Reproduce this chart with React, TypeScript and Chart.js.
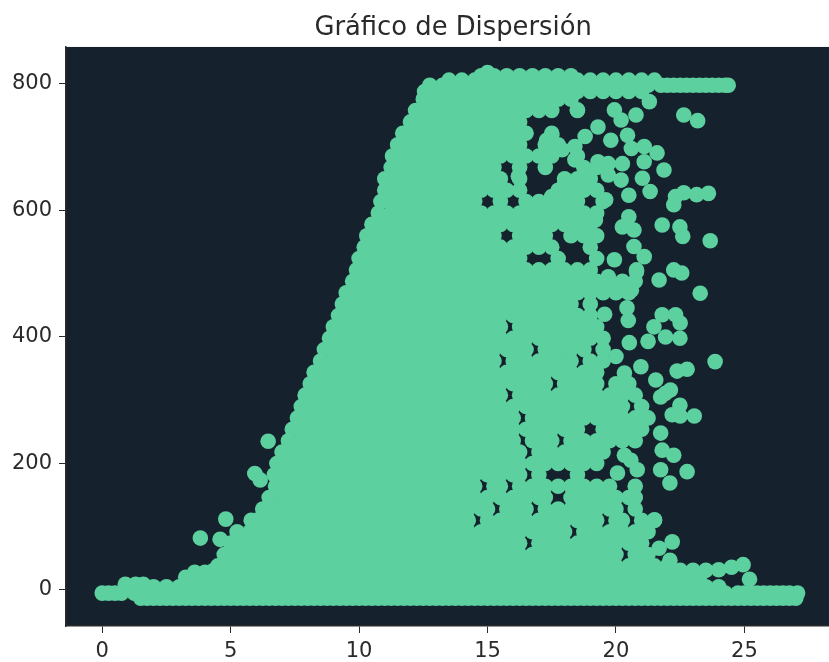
import React, { useEffect, useRef } from "react";
import { Chart, registerables } from "chart.js";

Chart.register(...registerables);

const titleText = "Gráfico de Dispersión";
const xTickStep = 5;
const yTickStep = 200;

const rowM13 = [1.5,1.75,2,2.25,2.5,2.75,3,3.25,3.5,3.75,4,4.25,4.5,4.75,5,5.25,5.5,5.75,6,6.25,6.5,6.75,7,7.25,7.5,7.75,8,8.25,8.5,8.75,9,9.25,9.5,9.75,10,10.25,10.5,10.75,11,11.25,11.5,11.75,12,12.25,12.5,12.75,13,13.25,13.5,13.75,14,14.25,14.5,14.75,15,15.25,15.5,15.75,16,16.25,16.5,16.75,17,17.25,17.5,17.75,18,18.25,18.5,18.75,19,19.25,19.5,19.75,20,20.25,20.5,20.75,21,21.25,21.5,21.75,22,22.25,22.5,22.75,23,23.25,23.5,23.75,24,24.25,24.5,24.75,25,25.25,25.5,25.75,26,26.25,26.5,26.75,27];
const rowM5 = [0,0.25,0.5,0.75,1.25,1.75,2.25,2.75,3.25,3.75,4.25,4.75,5.25,5.75,6.25,6.75,7.25,7.75,8.25,8.75,9.25,9.75,10.25,10.75,11.25,11.75,12.25,12.75,13.25,13.75,14.25,14.75,15.25,15.75,16.25,16.75,17.25,17.75,18.25,18.75,19.25,19.75,20.25,20.75,21.25,21.75,22.25,22.75,23.25,23.75,24.25,24.75,25,25.25,25.5,25.75,26,26.25,26.5,26.75,27.07];
const row5 = [2,2.5,3,3.5,4,4.5,5,5.5,6,6.5,7,7.5,8,8.5,9,9.5,10,10.5,11,11.5,12,12.5,13,13.5,14,14.5,15,15.5,16,16.5,17,17.5,18,18.5,19,19.5,20,20.5,21,21.5,22,22.5,23,23.5,24];
const row20 = [3.25,3.75,4.25,4.75,5.25,5.75,6.25,6.75,7.25,7.75,8.25,8.75,9.25,9.75,10.25,10.75,11.25,11.75,12.25,12.75,13.25,13.75,14.25,14.75,15.25,15.75,16.25,16.75,17.25,17.75,18.25,18.75,19.25,19.75,20.25,20.75,21.25,21.75,22.25,22.75,23.25];
const row38 = [4.5,5,5.5,6,6.5,7,7.5,8,8.5,9,9.5,10,10.5,11,11.5,12,12.5,13,13.5,14,14.5,15,15.5,16,16.5,17,17.5,18,18.5,19,19.5,20,20.5,21,21.5,22];
const row56 = [4.75,5.25,5.75,6.25,6.75,7.25,7.75,8.25,8.75,9.25,9.75,10.25,10.75,11.25,11.75,12.25,12.75,13.25,13.75,14.25,14.75,15.25,15.75,16.25,16.75,17.25,17.75,18.25,18.75,19.25,19.75,20,20.75,21.25];
const row74 = [5,5.5,6,6.5,7,7.5,8,8.5,9,9.5,10,10.5,11,11.5,12,12.5,13,13.5,14,14.5,15,15.5,16,16.25,17,17.5,18,18.5,19,19.5,20,20.5,21];
const row92 = [5.25,5.75,6.25,6.75,7.25,7.75,8.25,8.75,9.25,9.75,10.25,10.75,11.25,11.75,12.25,12.75,13.25,13.75,14.25,14.75,15.25,15.75,16.25,16.75,17.25,17.75,18,18.75,19.25,19.75,20.25,20.75,21.25];
const row110 = [5.8,6,6.5,7,7.5,8,8.5,9,9.5,10,10.5,11,11.5,12,12.5,13,13.5,14,14.25,15,15.5,16,16.5,17,17.5,18,18.5,19,19.25,20,20.25,21,21.5];
const row128 = [6.25,6.75,7.25,7.75,8.25,8.75,9.25,9.75,10.25,10.75,11.25,11.75,12.25,12.75,13.25,13.75,14.25,14.75,15,15.75,16.25,16.5,17.25,17.75,18.25,18.75,19.25,19.75,20,20.75];
const row146 = [6.5,7,7.5,8,8.5,9,9.5,10,10.5,11,11.5,12,12.5,13,13.5,14,14.5,15,15.5,16,16.5,17,17.25,18.25,18.5,19,19.5,20,20.5,20.75];
const row164 = [6.75,7.25,7.75,8.25,8.75,9.25,9.75,10.25,10.75,11.25,11.75,12.25,12.75,13.25,13.75,14.25,14.5,15.25,15.5,16.25,16.75,17.25,17.75,18.25,18.75,19.25,19.75,20.75];
const row182 = [6.7,7,7.5,8,8.5,9,9.5,10,10.5,11,11.5,12,12.5,13,13.5,14,14.5,15,15.5,16,16.25,17,18.5];
const row200 = [6.8,7.25,7.75,8.25,8.75,9.25,9.75,10.25,10.75,11.25,11.75,12.25,12.75,13.25,13.75,14.25,14.75,15.25,15.75,16.25,16.75,17.25,17.75,18.25,18.75,19.25];
const row218 = [7,7.5,8,8.5,9,9.5,10,10.5,11,11.5,12,12.5,13,13.5,14,14.5,15,15.5,16,16.25,17,17.5,18,18.5,19,19.5];
const row236 = [7.25,7.75,8.25,8.75,9.25,9.75,10.25,10.75,11.25,11.75,12.25,12.75,13.25,13.75,14.25,14.75,15.25,15.75,16,16.75,17.25,17.5,18.25,18.75,19.25,19.75,20.25,20.75];
const row254 = [7.4,7.75,8,8.5,9,9.5,10,10.5,11,11.5,12,12.5,13,13.5,14,14.5,15,15.5,16,16.5,17,17.5,18,18.5,19.5,20,20.5,21];
const row272 = [7.6,7.9,8.25,8.75,9.25,9.75,10.25,10.75,11.25,11.75,12.25,12.75,13.25,13.75,14.25,14.75,15.25,15.75,16,16.75,17.25,17.75,18.25,18.75,19.25,19.75,20.25,20.75,21.25];
const row290 = [7.75,8,8.5,9,9.5,10,10.5,11,11.5,12,12.5,13,13.5,14,14.5,15,15.5,16,16.5,17,17.5,18,18.5,19,19.5,20,20.25,21];
const row308 = [7.9,8.25,8.75,9.25,9.75,10.25,10.75,11.25,11.75,12.25,12.75,13.25,13.75,14.25,14.75,15.25,15.5,16.25,16.75,17.25,17.75,18.25,18.75,19.25,19.75,20.25,20.75];
const row326 = [8.1,8.5,9,9.5,10,10.5,11,11.5,12,12.5,13,13.5,14,14.5,15,15.5,16,16.5,17,17.25,18,18.5,19,19.25,20,20.5];
const row344 = [8.25,8.75,9.25,9.75,10.25,10.75,11.25,11.75,12.25,12.75,13.25,13.75,14.25,14.75,15.25,15.75,16.25,16.75,17.25,17.75,18.25,18.75,19.25];
const row362 = [8.5,9,9.5,10,10.5,11,11.5,12,12.5,13,13.5,14,14.5,15,15.25,16,16.5,17,17.5,18,18.25,19,19.5];
const row380 = [8.65,8.95,9.25,9.75,10.25,10.75,11.25,11.75,12.25,12.75,13.25,13.75,14.25,14.75,15.25,15.75,16.25,16.5,17.25,17.75,18.25,18.75,19.5];
const row398 = [8.85,9.15,9.5,10,10.5,11,11.5,12,12.5,13,13.5,14,14.5,15,15.5,16,16.5,17,17.5,18,18.5,19,19.5];
const row416 = [9,9.25,9.75,10.25,10.75,11.25,11.75,12.25,12.75,13.25,13.75,14.25,14.75,15.25,15.5,16.25,16.75,17.25,17.75,18.25,18.75,19.25];
const row434 = [9.2,9.5,10,10.5,11,11.5,12,12.5,13,13.5,14,14.5,15,15.5,16,16.5,17,17.5,18,18.5,19];
const row452 = [9.35,9.75,10.25,10.75,11.25,11.75,12.25,12.75,13.25,13.75,14.25,14.75,15.25,15.75,16.25,16.75,17.25,17.75,18.25,19];
const row470 = [9.5,10,10.5,11,11.5,12,12.5,13,13.5,14,14.5,15,15.5,16,16.5,17,17.5,18,18.5,19,19.5,20,20.5];
const row488 = [9.75,10.25,10.75,11.25,11.75,12.25,12.75,13.25,13.75,14.25,14.75,15.25,15.75,16.25,16.75,17.25,17.75,18.25,18.75,19.25,19.75,20.25,20.75];
const row506 = [9.9,10.2,10.5,11,11.5,12,12.5,13,13.5,14,14.5,15,15.5,16,16.5,17,17.5,18,18.5,19,20.8];
const row524 = [10,10.25,10.75,11.25,11.75,12.25,12.75,13.25,13.75,14.25,14.75,15.25,15.75,16.25,17.75,19.25];
const row542 = [10.2,10.5,11,11.5,12,12.5,13,13.5,14,14.5,15,15.5,16,16.5,17,17.5,19];
const row560 = [10.3,10.75,11.25,11.75,12.25,12.75,13.25,13.75,14.25,14.75,15.25,16.25,16.75,17.25,18.25,18.75,19.25];
const row578 = [10.5,11,11.5,12,12.5,13,13.5,14,14.5,15,15.5,16,16.5,17,17.5,18,18.5,19];
const row596 = [10.75,11.25,11.75,12.25,12.75,13.25,13.75,14.25,14.75,15.25,15.75,16.25,16.75,17.25,17.75,18.25,18.75,19.25];
const row614 = [10.85,11.15,11.5,12,12.5,13,13.5,14,14.5,15.5,16.5,17,17.5,18,18.5,19.5];
const row632 = [11,11.25,11.75,12.25,12.75,13.25,13.75,14.25,14.75,15.25,15.75,16.25,17.75,18.25,18.75,19.25];
const row650 = [11,11.5,12,12.5,13,13.5,14,14.5,15,15.5,16.25,18,18.5,19];
const row668 = [11.25,11.75,12.25,12.75,13.25,13.75,14.25,14.75,15.25,16.25,17.25,18.75,19.25];
const row686 = [11.3,11.5,12,12.5,13,13.5,14,14.5,15,15.5,16,16.5,17,17.5,18.5];
const row704 = [11.5,11.75,12.25,12.75,13.25,13.75,14.25,14.75,15.25,15.75,16.25,17.25,17.75];
const row722 = [11.7,12,12.5,13,13.5,14,14.5,15,15.5,16,16.5,17.5];
const row740 = [12,12.25,12.75,13.25,13.75,14.25,14.75,15.25,15.75,16.25];
const row758 = [12.2,12.5,13,13.5,14,14.5,15,15.5,16,16.5,17,17.5,18.5];
const row776 = [12.5,12.75,13.25,13.75,14.25,14.75,15.25,15.75,16.25,16.75,17.25,17.75,18.25];
const row788 = [12.55,13,13.5,14,14.5,15,15.5,16,16.5,17,17.5,18,18.5,19,19.5,20,20.5,21];
const row798 = [12.75,13.25,13.75,14.25,14.75,15.25,15.75,16.25,16.75,17.25,17.75,18.25,18.75,19.25,19.75,20.25,20.75,21.25,21.75,22,22.25,22.5,22.75,23,23.25,23.5,23.75,24,24.25,24.37];
const row806 = [13.5,14,14.5,15,15.5,16,16.5,17,17.5,18,18.5,19,19.5,20,20.5,21,21.5];
const row813 = [14.75,15.25,15.75,16.25,16.75,17.25,17.75,18.25];

const rowYs = [-13,-5,5,20,38,56,74,92,110,128,146,164,182,200,218,236,254,272,290,308,326,344,362,380,398,416,434,452,470,488,506,524,542,560,578,596,614,632,650,668,686,704,722,740,758,776,788,798,806,813];
const rowXs = [rowM13,rowM5,row5,row20,row38,row56,row74,row92,row110,row128,row146,row164,row182,row200,row218,row236,row254,row272,row290,row308,row326,row344,row362,row380,row398,row416,row434,row452,row470,row488,row506,row524,row542,row560,row578,row596,row614,row632,row650,row668,row686,row704,row722,row740,row758,row776,row788,row798,row806,row813];

const strayX = [0.9,1.3,1.6,3.6,4,4.3,3.82,4.81,4.59,5.94,6.15,6.46,21.68,22.19,22.1,21.5,22.5,23,23.5,24,24.5,24.95,25.2,20.78,22.64,23.18,21.3,21.87,21.33,23.6,23.14,22.64,22.32,22.25,21.8,22.49,22.6,23.67,23.28,19.94,22.25,21.68,22.56,23.86,22.77,22.38,21.93,21.74,22.12,22.49,22.19,22.5,23.05,21.74,21.8,22.25,21.74,22.77,22.1,21.8,22.32,21.48,22.5,21.93,22.49,21.25,20.52,20.43,20.48,19.56,20,20.97,20.33,21.55,20.33,20.83,20.58,20.06,17.5,17.3,17.9,18.5,19.94,20.2,19.3,18.8,18.4,18.4,19.8,20.45,20.6,21.1,21.6,21.1,21.03,19.7,20.25,19.3,19.7,20.2,20.5,20.5,20.25,20.7,20.7,21.1,20.8,19.7,20.2,20.6,17.5,16.2,18,19.6,19.2,15];
const strayY = [9,9,9,28,28,30,82,112,80,184,174,235,66,76,47,111,31,31,31,32,36,40,17,751,751,742,772,664,630,627,625,628,622,609,577,574,559,552,469,522,506,490,501,361,349,346,311,305,316,292,277,275,275,248,221,213,190,187,169,435,435,416,422,400,398,393,391,446,426,436,369,353,343,332,213,190,205,185,719,711,696,759,759,743,732,717,701,680,711,719,698,701,691,677,651,674,674,677,656,648,624,590,574,569,543,527,503,495,474,474,622,654,643,617,585,818];

const pointColor = "#5DD09F";
const plotColor = "#15212C";
const inkColor = "#2A2A2A";

const plotBackground = {
  id: "plotBackground",
  beforeDraw(chart: any) {
    const { ctx, chartArea } = chart;
    ctx.save();
    ctx.fillStyle = plotColor;
    ctx.fillRect(chartArea.left, chartArea.top, chartArea.right - chartArea.left, chartArea.bottom - chartArea.top);
    ctx.restore();
  },
};

export default function App() {
  const ref = useRef<HTMLCanvasElement | null>(null);
  useEffect(() => {
    const points: { x: number; y: number }[] = [];
    rowXs.forEach((xs, i) => xs.forEach((x) => points.push({ x, y: rowYs[i] })));
    strayX.forEach((x, i) => points.push({ x, y: strayY[i] }));
    const chart = new Chart(ref.current!, {
      type: "scatter",
      data: {
        datasets: [
          { data: points, pointRadius: 7.8, pointHoverRadius: 7.8, pointBorderWidth: 0, backgroundColor: pointColor, borderColor: pointColor },
        ],
      },
      plugins: [plotBackground],
      options: {
        animation: false,
        responsive: false,
        devicePixelRatio: 1,
        layout: { padding: 0 },
        plugins: {
          legend: { display: false },
          tooltip: { enabled: false },
          title: {
            display: true,
            text: titleText,
            fullSize: false,
            color: inkColor,
            font: { family: "'DejaVu Sans'", size: 25.8, weight: "normal" },
            padding: { top: 12.5, bottom: 3.5 },
          },
        },
        scales: {
          x: {
            type: "linear",
            min: -1.41,
            max: 28.73,
            afterFit: (s: any) => { s.height = 36; },
            border: { display: true, color: inkColor, width: 1.5 },
            grid: { display: true, drawOnChartArea: false, drawTicks: true, tickLength: 7, color: inkColor },
            ticks: { stepSize: xTickStep, includeBounds: false, maxRotation: 0, autoSkip: false, color: inkColor, padding: 6, font: { family: "'DejaVu Sans'", size: 21 } },
          },
          y: {
            type: "linear",
            min: -57,
            max: 858.5,
            afterFit: (s: any) => { s.width = 66; },
            border: { display: true, color: inkColor, width: 1.5 },
            grid: { display: true, drawOnChartArea: false, drawTicks: true, tickLength: 7, color: inkColor },
            ticks: { stepSize: yTickStep, includeBounds: false, autoSkip: false, color: inkColor, padding: 7, font: { family: "'DejaVu Sans'", size: 21 } },
          },
        },
      },
    } as any);
    return () => chart.destroy();
  }, []);
  return (
    <div style={{ position: "absolute", left: 0, top: 0, width: 829, height: 662, overflow: "hidden", background: "#fff" }}>
      <canvas ref={ref} width={848} height={662} style={{ display: "block", filter: "blur(0.6px)" }} />
    </div>
  );
}
